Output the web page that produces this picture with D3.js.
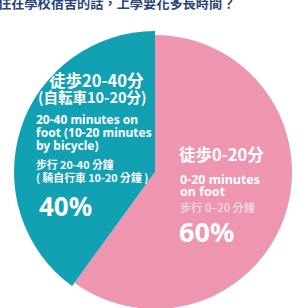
<!DOCTYPE html>
<html>
<head>
<meta charset="utf-8">
<script src="https://cdn.jsdelivr.net/npm/d3@7"></script>
<style>
  body { margin: 0; background: #fff; }
  svg { display: block; }
</style>
</head>
<body>
<svg id="chart"></svg>
<script>
// data
const categories = ["徒歩0-20分", "徒歩20-40分"];
const values = [60, 40];
const pctLabels = ["60%", "40%"];
const subJa = ["", "(自転車10-20分)"];
const enLines = [["0-20 minutes", "on foot"], ["20-40 minutes on", "foot (10-20 minutes", "by bicycle)"]];
const zhLines = [["步行 0–20 分鐘"], ["步行 20-40 分鐘", "( 騎自行車 10-20 分鐘 )"]];
const title = "住在學校宿舍的話，上學要花多長時間？";

const width = 298, height = 308;
const colors = ["#ee95af", "#12a1b3"];
const radii = [137, 141]; // teal slice sits a little larger in the scan
const cx = 155, cy = 172;

const svg = d3.select("#chart").attr("width", width).attr("height", height);

// title (cut off at the top like the scan)
svg.append("text")
  .attr("x", -2).attr("y", 8)
  .attr("font-family", "Noto Sans CJK TC")
  .attr("font-weight", 700)
  .attr("font-size", 13.2)
  .attr("fill", "#27457a")
  .text(title);

const pie = d3.pie().sort(null).value(d => d)(values);

const g = svg.append("g").attr("transform", `translate(${cx},${cy})`);
g.selectAll("path")
  .data(pie)
  .join("path")
  .attr("d", (d, i) => d3.arc().innerRadius(0).outerRadius(radii[i])(d))
  .attr("fill", (d, i) => colors[i]);

// label blocks (hand placed)
function addText(x, y, txt, size, opts = {}) {
  svg.append("text")
    .attr("x", x).attr("y", y)
    .attr("font-family", opts.family || "'Noto Sans', 'Noto Sans CJK TC', sans-serif")
    .attr("font-weight", opts.weight || 700)
    .attr("font-size", size)
    .attr("fill", opts.fill || "#fff")
    .attr("fill-opacity", opts.opacity || 1)
    .text(txt);
}

// teal slice
addText(49, 87, categories[1], 16.5, { family: "'Noto Sans CJK JP'" });
addText(38, 103, subJa[1], 14.5, { family: "'Noto Sans CJK JP'" });
enLines[1].forEach((t, i) => addText(36, 124 + i * 12.8, t, 12));
zhLines[1].forEach((t, i) => addText(36, 169 + i * 12.8, t, 10.8, { family: "'Noto Sans CJK TC'" }));
addText(39, 216, pctLabels[1], 26);

// pink slice
addText(179, 161, categories[0], 16.5, { family: "'Noto Sans CJK JP'" });
enLines[0].forEach((t, i) => addText(180, 184 + i * 11.5, t, 12.5));
zhLines[0].forEach(t => addText(180, 212, t, 11.2, { family: "'Noto Sans CJK TC'", weight: 500, opacity: 0.7 }));
addText(179, 242, pctLabels[0], 27);
</script>
</body>
</html>
